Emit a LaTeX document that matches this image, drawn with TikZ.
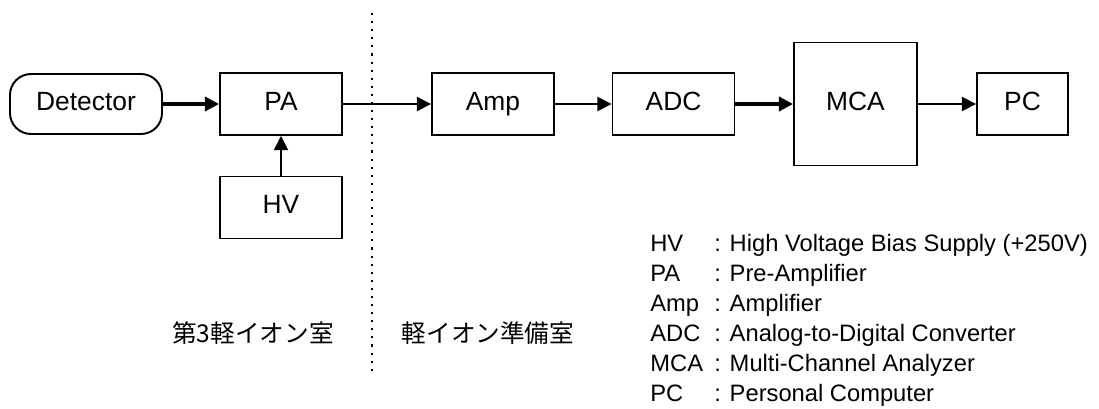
\documentclass[tikz,border=0pt]{standalone}
\usepackage{fontspec}
\setmainfont{Liberation Sans}
\newfontfamily\jpfont{Noto Sans CJK JP}
\usetikzlibrary{arrows.meta,positioning}

\begin{document}
\begin{tikzpicture}[
    % --- Block styles ---
    block/.style={draw, line width=1.1pt, inner sep=0pt, minimum height=1.24cm,
                  minimum width=2.44cm, text height=0.72em, text depth=0pt,
                  font=\fontsize{15}{18}\selectfont},
    source/.style={block, rounded corners=0.42cm, minimum width=3.04cm, minimum height=1.2cm},
    % --- Signal styles ---
    signal/.style={line width=1pt, -{Triangle[length=8pt, width=8pt]}},
    signal thick/.style={signal, line width=1.8pt},
    % --- Room boundary and texts ---
    boundary/.style={line width=1.2pt, dash pattern=on 1.2pt off 3.4pt},
    room/.style={font=\jpfont\fontsize{14}{16}\selectfont},
    legend/.style={anchor=base west, inner sep=0pt, font=\fontsize{13.5}{16}\selectfont},
]
\useasboundingbox (0,0) rectangle (21.98,8.16);

% ============================================================
% Signal chain
% ============================================================
\node[source] (det) at ( 1.72, 6.08) {Detector};
\node[block]  (pa)  at ( 5.62, 6.08) {PA};
\node[block]  (hv)  at ( 5.62, 4.01) {HV};
\node[block]  (amp) at ( 9.86, 6.08) {Amp};
\node[block]  (adc) at (13.47, 6.08) {ADC};
\node[block, minimum size=2.46cm] (mca) at (17.11, 6.08) {MCA};
\node[block, minimum width=1.82cm] (pc) at (20.45, 6.08) {PC};

% Connections
\draw[signal thick] (det) -- (pa);
\draw[signal thick] (adc) -- (mca);
\foreach \a/\b in {hv/pa, pa/amp, amp/adc, mca/pc}
  \draw[signal] (\a) -- (\b);

% ============================================================
% Rooms
% ============================================================
\coordinate (wall top) at (7.44, 7.9);
\coordinate (wall bot) at (7.44, 0.66);
\draw[boundary] (wall top) -- (wall bot);
\node[room] (room1) at (5.06, 1.5) {第3軽イオン室};
\node[room] (room2) at (9.76, 1.5) {軽イオン準備室};

% ============================================================
% Legend
% ============================================================
\foreach \abbr/\desc [count=\i] in {HV/High Voltage Bias Supply (+250V),
    PA/Pre-Amplifier, Amp/Amplifier, ADC/Analog-to-Digital Converter,
    MCA/Multi-Channel Analyzer, PC/Personal Computer}
{
  \node[legend] (abbr\i) at (13.0, 3.73-0.6*\i) {\abbr};
  \node[legend] (desc\i) at (14.28, 3.73-0.6*\i) {: \desc};
}

\end{tikzpicture}
\end{document}
